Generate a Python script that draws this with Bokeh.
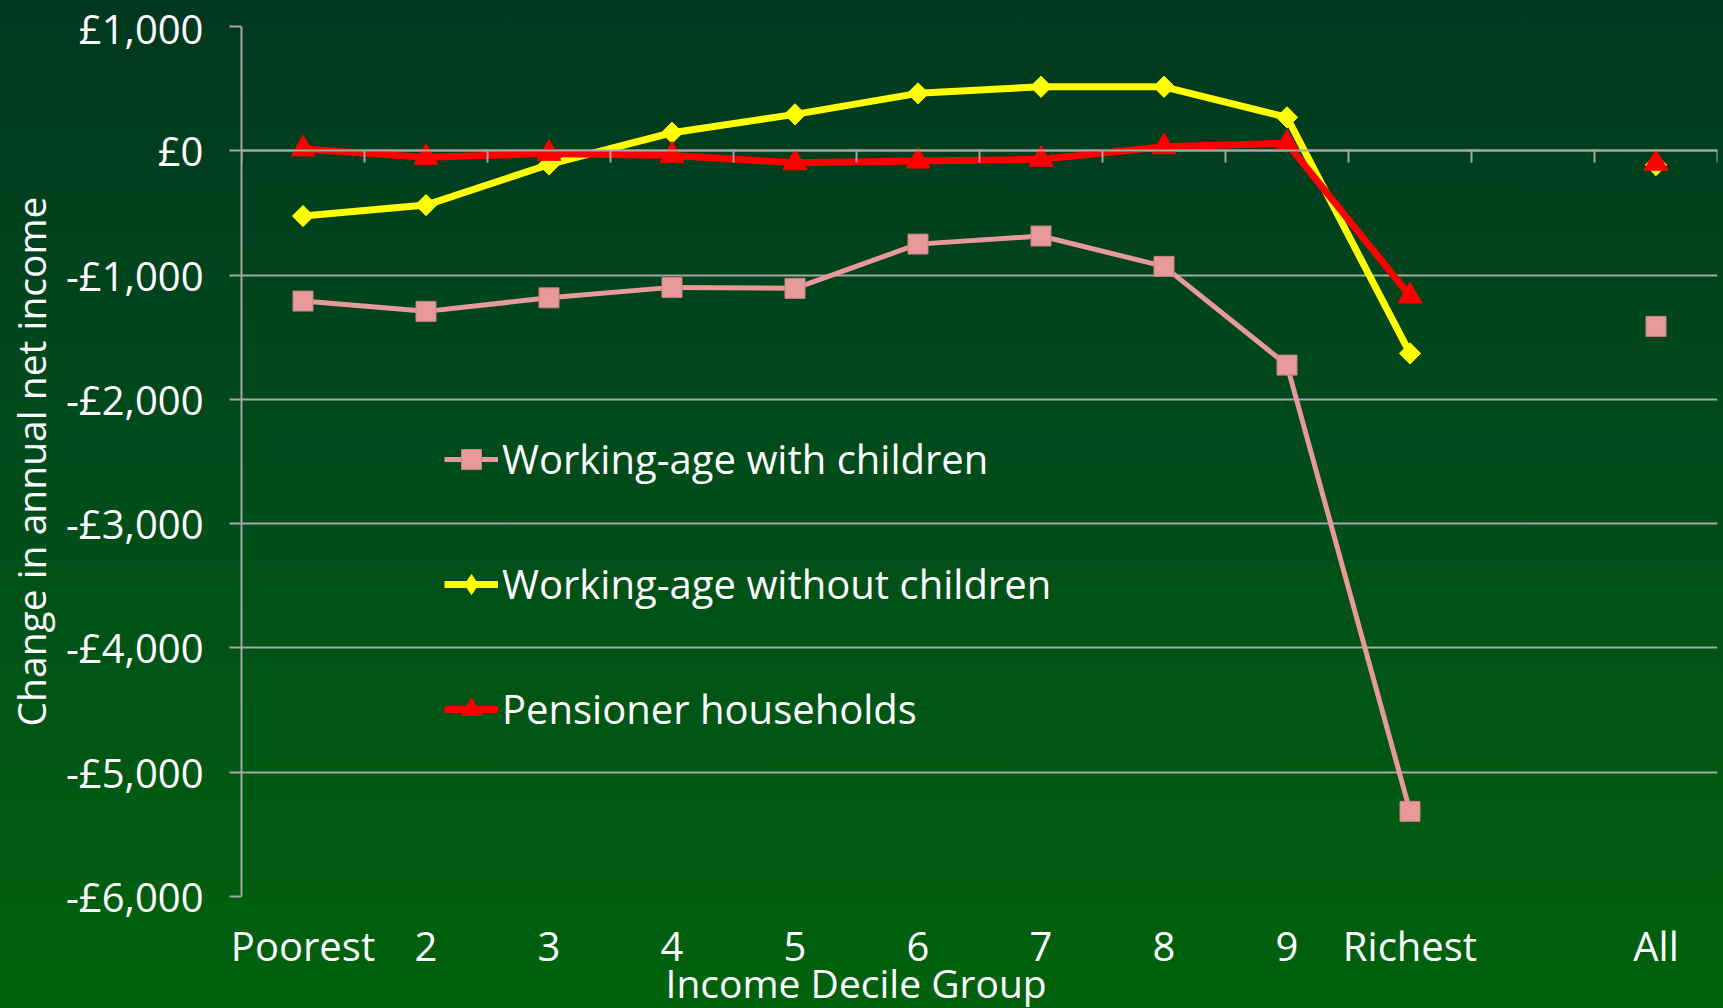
import math
from bokeh.plotting import figure
from bokeh.models import Range1d, LinearAxis, FixedTicker, Legend, LegendItem, Title
from bokeh.embed import file_html
from bokeh.resources import INLINE

# ---- data ----
categories = ["Poorest", "2", "3", "4", "5", "6", "7", "8", "9", "Richest", "", "All"]
with_children = [-1209, -1292, -1183, -1099, -1107, -751, -686, -930, -1724, -5315, float("nan"), -1413]
without_children = [-525, -437, -110, 145, 293, 462, 515, 515, 269, -1630, float("nan"), -115]
pensioners = [14, -53, -21, -37, -97, -83, -69, 32, 60, -1169, float("nan"), -101]
y_tick_values = [1000, 0, -1000, -2000, -3000, -4000, -5000, -6000]
y_tick_labels = ["£1,000", "£0", "-£1,000", "-£2,000", "-£3,000", "-£4,000", "-£5,000", "-£6,000"]
series_names = ["Working-age with children", "Working-age without children", "Pensioner households"]
x_title = "Income Decile Group"
y_title = "Change in annual net income"

FONT = "Open Sans"
GRID = "#A6A6A6"
WHITE = "#FFFFFF"

W, H = 1723, 1008
LEFT, RIGHT, TOP, BOTTOM = 239, 6, 26, 112

n = len(categories)
xs = [i + 0.5 for i in range(n)]
y_lo, y_hi = min(y_tick_values), max(y_tick_values)

p = figure(width=W, height=H, output_backend="svg", toolbar_location=None,
           x_range=Range1d(0, n), y_range=Range1d(y_lo, y_hi),
           min_border_left=LEFT, min_border_right=RIGHT, min_border_top=TOP, min_border_bottom=BOTTOM)
p.styles = {"position": "fixed", "top": "0px", "left": "0px",
            "background": "linear-gradient(to bottom, #00381F 0%, #004B1B 45%, #00620D 100%)"}
p.background_fill_alpha = 0
p.border_fill_alpha = 0
p.outline_line_alpha = 0

# y axis
yax = p.yaxis[0]
yax.ticker = FixedTicker(ticks=y_tick_values)
yax.major_label_overrides = dict(zip(y_tick_values, y_tick_labels))
yax.major_tick_out = 12
yax.major_tick_in = 0
yax.minor_tick_out = 0
yax.minor_tick_in = 0
yax.axis_line_color = GRID
yax.axis_line_width = 2
yax.major_tick_line_color = GRID
yax.major_tick_line_width = 2
yax.major_label_text_color = WHITE
yax.major_label_text_font = FONT
yax.major_label_text_font_size = "40px"
yax.major_label_standoff = 26
yax.axis_label = y_title
yax.axis_label_text_color = WHITE
yax.axis_label_text_font = FONT
yax.axis_label_text_font_size = "39px"
yax.axis_label_text_font_style = "normal"
yax.axis_label_standoff = 6

# x axis (labels only)
xax = p.xaxis[0]
xax.ticker = FixedTicker(ticks=xs)
xax.major_label_overrides = dict(zip(xs, categories))
xax.axis_line_alpha = 0
xax.major_tick_line_alpha = 0
xax.major_tick_out = 0
xax.major_tick_in = 0
xax.minor_tick_line_alpha = 0
xax.minor_tick_out = 0
xax.minor_tick_in = 0
xax.major_label_text_color = WHITE
xax.major_label_text_font = FONT
xax.major_label_text_font_size = "40px"
xax.major_label_standoff = 21

# x axis line at zero with ticks between categories (no labels)
zax = LinearAxis(fixed_location=0, ticker=FixedTicker(ticks=list(range(n + 1))))
zax.axis_line_color = GRID
zax.axis_line_width = 2
zax.major_tick_line_color = GRID
zax.major_tick_line_width = 2
zax.major_tick_out = 12
zax.major_tick_in = 0
zax.minor_tick_line_alpha = 0
zax.major_label_text_color = None
zax.major_label_text_font_size = "1px"
zax.major_label_standoff = 0
p.add_layout(zax, "below")

p.xgrid.visible = False
p.ygrid.ticker = FixedTicker(ticks=y_tick_values)
p.ygrid.grid_line_color = GRID
p.ygrid.grid_line_width = 2

# series
l1 = p.line(xs, with_children, line_color="#E8999A", line_width=5, line_join="round")
s1 = p.scatter(xs, with_children, marker="square", size=20, fill_color="#E8999A", line_color="#C98283", line_width=1)
l2 = p.line(xs, without_children, line_color="#FFFF00", line_width=7, line_join="round")
s2 = p.scatter(xs, without_children, marker="square", angle=math.pi / 4, size=15, fill_color="#FFFF00", line_color="#FFFF00")
s2_leg = p.scatter(xs, without_children, marker="diamond", size=20, fill_color="#FFFF00", line_color="#FFFF00", visible=False)
l3 = p.line(xs, pensioners, line_color="#FF0000", line_width=7, line_join="round")
s3 = p.scatter(xs, pensioners, marker="triangle", size=24, fill_color="#FF0000", line_color="#FF0000")

legend = Legend(items=[LegendItem(label=series_names[0], renderers=[l1, s1]),
                       LegendItem(label=series_names[1], renderers=[l2, s2_leg]),
                       LegendItem(label=series_names[2], renderers=[l3, s3])],
                location=(203, 160), orientation="vertical",
                border_line_alpha=0, background_fill_alpha=0,
                label_text_color=WHITE, label_text_font=FONT, label_text_font_size="40px",
                glyph_width=54, glyph_height=50, label_height=50, spacing=70,
                padding=0, margin=0, label_standoff=4)
p.add_layout(legend)

# x axis title: left edge placed so that it sits centred on the whole chart width
xt = Title(text=x_title, align="left", offset=424, vertical_align="middle",
           text_color=WHITE, text_font=FONT, text_font_size="39px", text_font_style="normal")
try:
    xt.standoff = -42
except Exception:
    xt.standoff = 0
p.add_layout(xt, "below")

open("out.html", "w").write(file_html(p, INLINE))
